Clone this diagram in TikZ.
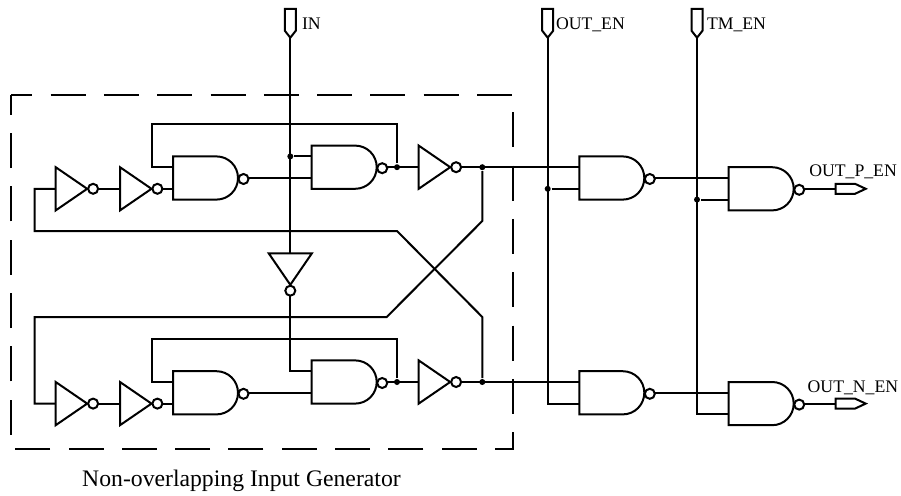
\documentclass[tikz,border=0pt]{standalone}
\usepackage{fontspec}
\setmainfont{Liberation Serif}
\tikzset{
  bubble/.style={fill=white},
  dot/.style={circle, fill=black, inner sep=0pt, minimum size=6pt},
  tag/.style={anchor=base west, inner sep=0pt, font=\fontsize{17.7}{20}\selectfont},
  nandgate/.pic={
    \draw (0,-21.6) -- (43.4,-21.6)
      .. controls (55.4,-21.6) and (65,-12) .. (65,0)
      .. controls (65,12) and (55.4,21.6) .. (43.4,21.6)
      -- (0,21.6) -- cycle;
    \draw[bubble] (70.5,1) circle [radius=5pt];
    \coordinate (-a) at (0,-10.8);
    \coordinate (-b) at (0,10.8);
    \coordinate (-o) at (75.5,0);
  },
  invgate/.pic={
    \draw (0,-21.6) -- (31.5,0) -- (0,21.6) -- cycle;
    \draw[bubble] (37.4,0) circle [radius=5pt];
    \coordinate (-i) at (0,0);
    \coordinate (-o) at (42.4,0);
  },
  padin/.pic={
    \draw (-5.5,0) -- (5.5,0) -- (5.5,21.7) -- (0,28.7) -- (-5.5,21.7) -- cycle;
    \coordinate (-o) at (0,28.7);
  },
  padout/.pic={
    \draw (0,-5) -- (19.3,-5) -- (30,0) -- (19.3,5) -- (0,5) -- cycle;
    \coordinate (-i) at (0,0);
  },
}
\begin{document}
\begin{tikzpicture}[x=1pt, y=-1pt, line width=2pt]
  \useasboundingbox (0,0) rectangle (901,495);
  % top half
  \pic (inv1) at (55.7,188.8) {invgate};
  \pic (inv2) at (120,188.8) {invgate};
  \pic (nand1) at (173,178) {nandgate};
  \pic (nand2) at (311.7,167.2) {nandgate};
  \pic (inv3) at (418.7,167.2) {invgate};
  \pic (nand3) at (579.3,178) {nandgate};
  \pic (nand4) at (728.7,188.8) {nandgate};
  \pic (outp) at (835.7,188.8) {padout};
  % bottom half
  \pic (inv4) at (55.7,403.6) {invgate};
  \pic (inv5) at (120,403.6) {invgate};
  \pic (nand5) at (173,392.8) {nandgate};
  \pic (nand6) at (311.7,382) {nandgate};
  \pic (inv6) at (418.7,382) {invgate};
  \pic (nand7) at (579.3,392.8) {nandgate};
  \pic (nand8) at (728.7,403.6) {nandgate};
  \pic (outn) at (835.7,403.6) {padout};
  % inputs
  \pic (in) at (290.3,9) {padin};
  \pic (outen) at (547.7,9) {padin};
  \pic (tmen) at (697,9) {padin};
  \pic [rotate=-90] (invin) at (290.3,253.3) {invgate};

  \coordinate (box1) at (11.3,95);
  \coordinate (box2) at (513,449);
  \draw[dash pattern=on 35pt off 18.3pt, dash phase=14pt]
    (box1) -- (box1 -| box2) -- (box2) -- (box2 -| box1) -- cycle;

  \node[dot] (dotin) at (in-o |- nand2-a) {};
  \node[dot] (dotfb1) at (397,167.2) {};
  \node[dot] (dotfb2) at (397,382) {};
  \node[dot] (dotp) at (482.3,167.2) {};
  \node[dot] (dotn) at (482.3,382) {};
  \node[dot] (dotoe) at (outen-o |- nand3-b) {};
  \node[dot] (dottm) at (tmen-o |- nand4-b) {};

  \coordinate (fb1) at (152,124.3);
  \coordinate (fb2) at (152,339);
  \coordinate (crossa) at (34.7,231);
  \coordinate (crossb) at (397,231);
  \coordinate (crossc) at (482.3,317);
  \coordinate (crossd) at (34.7,317);
  \coordinate (crosse) at (386.7,317);
  \coordinate (crossf) at (482.3,221);

  \draw (in-o) -- (invin-i);
  \draw (invin-o) |- (nand6-a);
  \draw (dotin) -- (nand2-a);
  \draw (inv1-o) -- (inv2-i);
  \draw (inv2-o) -- (nand1-b);
  \draw (nand1-o) -- (nand2-b);
  \draw (nand2-o) -- (inv3-i);
  \draw (dotfb1) |- (fb1) |- (nand1-a);
  \draw (inv3-o) -- (nand3-a);
  \draw (nand3-o) -- (nand4-a);
  \draw (nand4-o) -- (outp-i);
  \draw (inv4-o) -- (inv5-i);
  \draw (inv5-o) -- (nand5-b);
  \draw (nand5-o) -- (nand6-b);
  \draw (nand6-o) -- (inv6-i);
  \draw (dotfb2) |- (fb2) |- (nand5-a);
  \draw (inv6-o) -- (nand7-a);
  \draw (nand7-o) -- (nand8-a);
  \draw (nand8-o) -- (outn-i);
  \draw (inv1-i) -| (crossa) -- (crossb) -- (crossc) -- (dotn);
  \draw (inv4-i) -| (crossd) -- (crosse) -- (crossf) -- (dotp);
  \draw (outen-o) |- (nand7-b);
  \draw (dotoe) -- (nand3-b);
  \draw (tmen-o) |- (nand8-b);
  \draw (dottm) -- (nand4-b);

  \node[tag] (inlabel) at (301,29.6) {IN};
  \node[tag] (oelabel) at (555,29.6) {OUT\_EN};
  \node[tag] (tmlabel) at (706,29.6) {TM\_EN};
  \node[tag] (oplabel) at (808.3,176.3) {OUT\_P\_EN};
  \node[tag] (onlabel) at (806.7,392.6) {OUT\_N\_EN};
  \node[tag, font=\fontsize{23.7}{26}\selectfont] (genlabel) at (81.2,486)
    {Non-overlapping Input Generator};
\end{tikzpicture}
\end{document}
